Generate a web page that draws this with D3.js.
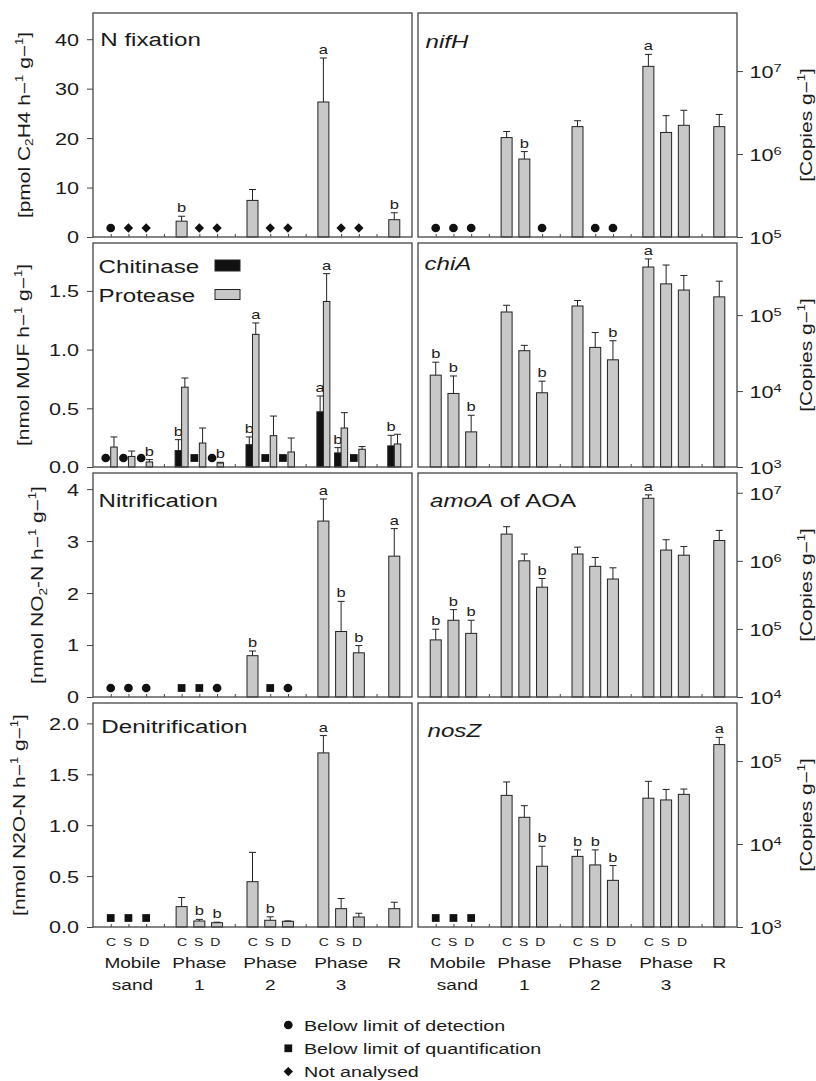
<!DOCTYPE html>
<html>
<head>
<meta charset="utf-8">
<script src="https://cdn.jsdelivr.net/npm/d3@7"></script>
<style>
  body { margin: 0; background: #fff; }
  svg { font-family: "Liberation Sans", Arial, sans-serif; }
</style>
</head>
<body>
<div id="chart"></div>
<script>
// categories
var groupNames = [["Mobile", "sand"], ["Phase", "1"], ["Phase", "2"], ["Phase", "3"], ["R", ""]];
var sampleGroup = [0, 0, 0, 1, 1, 1, 2, 2, 2, 3, 3, 3, 4];
var sampleTreat = ["C", "S", "D", "C", "S", "D", "C", "S", "D", "C", "S", "D", "R"];
// symbol codes: o = below detection, s = below quantification, d = not analysed

// N fixation [pmol C2H4 h-1 g-1]
var nFixMean = [null, null, null, 3.2, null, null, 7.4, null, null, 27.3, null, null, 3.5];
var nFixErr = [null, null, null, 4.2, null, null, 9.6, null, null, 36.2, null, null, 4.9];
var nFixSym = ["o", "d", "d", null, "d", "d", null, "d", "d", null, "d", "d", null];
var nFixLetter = [null, null, null, "b", null, null, null, null, null, "a", null, null, "b"];

// nifH [copies g-1]
var nifHMean = [null, null, null, 1.58e6, 8.7e5, null, 2.14e6, null, null, 1.14e7, 1.82e6, 2.22e6, 2.14e6];
var nifHErr = [null, null, null, 1.87e6, 1.07e6, null, 2.52e6, null, null, 1.59e7, 2.9e6, 3.37e6, 3.0e6];
var nifHSym = ["o", "o", "o", null, null, "o", null, "o", "o", null, null, null, null];
var nifHLetter = [null, null, null, null, "b", null, null, null, null, "a", null, null, null];

// Chitinase / Protease [nmol MUF h-1 g-1]
var chitMean = [null, null, null, 0.14, null, null, 0.19, null, null, 0.47, 0.12, null, 0.18];
var chitErr = [null, null, null, 0.233, null, null, 0.256, null, null, 0.605, 0.165, null, 0.27];
var chitSym = ["o", "o", "o", null, "s", "o", null, "s", "s", null, null, "s", null];
var chitLetter = [null, null, null, "b", null, null, "b", null, null, "a", "b", null, "b"];
var protMean = [0.17, 0.09, 0.043, 0.68, 0.204, 0.034, 1.13, 0.267, 0.128, 1.41, 0.332, 0.151, 0.196];
var protErr = [0.256, 0.136, 0.063, 0.758, 0.332, 0.04, 1.227, 0.434, 0.247, 1.647, 0.463, 0.174, 0.279];
var protLetter = [null, null, "b", null, null, "b", "a", null, null, "a", null, null, null];

// chiA [copies g-1]
var chiAMean = [1.62e4, 9.3e3, 2.9e3, 1.1e5, 3.4e4, 9.5e3, 1.32e5, 3.76e4, 2.58e4, 4.3e5, 2.58e5, 2.14e5, 1.74e5];
var chiAErr = [2.4e4, 1.58e4, 4.8e3, 1.35e5, 4.0e4, 1.35e4, 1.56e5, 5.9e4, 4.6e4, 5.5e5, 4.57e5, 3.33e5, 2.8e5];
var chiALetter = ["b", "b", "b", null, null, "b", null, null, "b", "a", null, null, null];

// Nitrification [nmol NO2-N h-1 g-1]
var nitMean = [null, null, null, null, null, null, 0.795, null, null, 3.385, 1.26, 0.85, 2.71];
var nitErr = [null, null, null, null, null, null, 0.885, null, null, 3.81, 1.84, 0.99, 3.24];
var nitSym = ["o", "o", "o", "s", "s", "o", null, "s", "o", null, null, null, null];
var nitLetter = [null, null, null, null, null, null, "b", null, null, "a", "b", "b", "a"];

// amoA of AOA [copies g-1]
var amoAMean = [6.9e4, 1.34e5, 8.6e4, 2.47e6, 1.0e6, 4.1e5, 1.26e6, 8.3e5, 5.4e5, 8.3e6, 1.44e6, 1.21e6, 1.99e6];
var amoAErr = [9.9e4, 1.92e5, 1.34e5, 3.17e6, 1.26e6, 5.5e5, 1.59e6, 1.12e6, 7.9e5, 9.3e6, 2.04e6, 1.62e6, 2.8e6];
var amoALetter = ["b", "b", "b", null, null, "b", null, null, null, "a", null, null, null];

// Denitrification [nmol N2O-N h-1 g-1]
var denMean = [null, null, null, 0.20, 0.059, 0.042, 0.445, 0.066, 0.056, 1.71, 0.18, 0.098, 0.18];
var denErr = [null, null, null, 0.29, 0.075, 0.047, 0.733, 0.10, 0.06, 1.88, 0.28, 0.135, 0.243];
var denSym = ["s", "s", "s", null, null, null, null, null, null, null, null, null, null];
var denLetter = [null, null, null, null, "b", "b", null, "b", null, "a", null, null, null];

// nosZ [copies g-1]
var nosZMean = [null, null, null, 3.86e4, 2.1e4, 5.4e3, 7.1e3, 5.6e3, 3.65e3, 3.57e4, 3.4e4, 3.97e4, 1.58e5];
var nosZErr = [null, null, null, 5.6e4, 2.9e4, 9.4e3, 8.5e3, 8.5e3, 5.5e3, 5.7e4, 4.55e4, 4.6e4, 1.93e5];
var nosZSym = ["s", "s", "s", null, null, null, null, null, null, null, null, null, null];
var nosZLetter = [null, null, null, null, null, "b", "b", "b", "b", null, null, null, "a"];

// tick values
var nFixTicks = [0, 10, 20, 30, 40];
var chitTicks = [0, 0.5, 1.0, 1.5];
var nitTicks = [0, 1, 2, 3, 4];
var denTicks = [0, 0.5, 1.0, 1.5, 2.0];
var nifHTicks = [1e5, 1e6, 1e7];
var chiATicks = [1e3, 1e4, 1e5];
var amoATicks = [1e4, 1e5, 1e6, 1e7];
var nosZTicks = [1e3, 1e4, 1e5];

var legendItems = [["o", "Below limit of detection"], ["s", "Below limit of quantification"], ["d", "Not analysed"]];

// ---------------------------------------------------------------
var SX = 1.27;          // glyphs in the figure are wide, stretch text
var ink = "#1a1a1a";
var barGray = "#c8c8c8";
var pw = 319, ph = 224;

var svg = d3.select("#chart")
    .append("svg")
    .attr("width", 816)
    .attr("height", 1081);

// 17 slots: 3 bars + 1 gap per phase, R last
var x = d3.scalePoint()
    .domain(d3.range(17))
    .range([0, pw])
    .padding(1);

function slot(i) {
    var t = sampleTreat[i] === "R" ? 0 : ["C", "S", "D"].indexOf(sampleTreat[i]);
    return sampleGroup[i] * 4 + t;
}

function stext(parent, px, py, size, anchor, rot) {
    return parent.append("text")
        .attr("transform", "translate(" + px + "," + py + ")" + (rot ? " rotate(-90)" : "") + " scale(" + SX + ",1)")
        .attr("font-size", size)
        .attr("text-anchor", anchor || "start")
        .attr("fill", ink);
}

// parts: [text, shift in em (neg = up), size factor, italic]
function rich(t, parts, size) {
    var cur = 0;
    parts.forEach(function (p) {
        var shift = p[1] * size;
        var ts = t.append("tspan")
            .attr("dy", shift - cur)
            .attr("font-size", size * p[2])
            .text(p[0]);
        if (p[3]) ts.attr("font-style", "italic");
        cur = shift;
    });
}

function symPath(code) {
    if (code === "o") return d3.symbol().type(d3.symbolCircle).size(60)();
    if (code === "s") return d3.symbol().type(d3.symbolSquare).size(60)();
    return d3.symbol().type(d3.symbolSquare).size(44)();
}
function symTransform(code, px, py) {
    return "translate(" + px + "," + py + ")" + (code === "d" ? " rotate(45)" : "");
}

var hm1 = [["h", 0, 1], ["\u2212", 0, 1], ["1", -0.42, 0.62]];
var gm1 = [[" g", 0, 1], ["\u2212", 0, 1], ["1", -0.42, 0.62], ["]", 0, 1]];
var copiesLabel = [["[Copies g", 0, 1], ["\u2212", 0, 1], ["1", -0.42, 0.62], ["]", 0, 1]];

var panels = [
    { left: 93, top: 13, log: false, domain: [0, 45.3], ticks: nFixTicks, fmt: d3.format("d"),
      title: [["N fixation", 0, 1]], tx: 7.3, ty: 32.7, ylx: 29.5,
      ylabel: [["[pmol C", 0, 1], ["2", 0.22, 0.65], ["H4 ", 0, 1]].concat(hm1, gm1),
      series: [{ mean: nFixMean, err: nFixErr, sym: nFixSym, letter: nFixLetter, fill: barGray, off: 0, w: 11 }] },
    { left: 418, top: 13, log: true, domain: [1e5, Math.pow(10, 7.7)], ticks: nifHTicks,
      title: [["nifH", 0, 1, true]], tx: 7.5, ty: 35.3,
      series: [{ mean: nifHMean, err: nifHErr, sym: nifHSym, letter: nifHLetter, fill: barGray, off: 0, w: 11 }] },
    { left: 93, top: 243, log: false, domain: [0, 1.908], ticks: chitTicks, fmt: d3.format(".1f"),
      title: null, ylx: 29,
      ylabel: [["[nmol MUF ", 0, 1]].concat(hm1, gm1),
      series: [{ mean: chitMean, err: chitErr, sym: chitSym, letter: chitLetter, fill: "#111", off: -3.25, w: 6.5, symOff: -5 },
               { mean: protMean, err: protErr, sym: null, letter: protLetter, fill: barGray, off: 3.25, w: 6.5 }] },
    { left: 418, top: 243, log: true, domain: [1e3, Math.pow(10, 5.95)], ticks: chiATicks,
      title: [["chiA", 0, 1, true]], tx: 6.5, ty: 27,
      series: [{ mean: chiAMean, err: chiAErr, sym: null, letter: chiALetter, fill: barGray, off: 0, w: 11 }] },
    { left: 93, top: 473, log: false, domain: [0, 4.31], ticks: nitTicks, fmt: d3.format("d"),
      title: [["Nitrification", 0, 1]], tx: 5.6, ty: 33.7, ylx: 43,
      ylabel: [["[nmol NO", 0, 1], ["2", 0.22, 0.65], ["-N ", 0, 1]].concat(hm1, gm1),
      series: [{ mean: nitMean, err: nitErr, sym: nitSym, letter: nitLetter, fill: barGray, off: 0, w: 11 }] },
    { left: 418, top: 473, log: true, domain: [1e4, Math.pow(10, 7.29)], ticks: amoATicks,
      title: [["amoA", 0, 1, true], [" of AOA", 0, 1]], tx: 12, ty: 33.7,
      series: [{ mean: amoAMean, err: amoAErr, sym: null, letter: amoALetter, fill: barGray, off: 0, w: 11 }] },
    { left: 93, top: 703, log: false, domain: [0, 2.2], ticks: denTicks, fmt: d3.format(".1f"),
      title: [["Denitrification", 0, 1]], tx: 8.3, ty: 29.7, ylx: 25,
      ylabel: [["[nmol N2O-N ", 0, 1]].concat(hm1, gm1),
      series: [{ mean: denMean, err: denErr, sym: denSym, letter: denLetter, fill: barGray, off: 0, w: 11 }] },
    { left: 418, top: 703, log: true, domain: [1e3, Math.pow(10, 5.7)], ticks: nosZTicks,
      title: [["nosZ", 0, 1, true]], tx: 9.5, ty: 33.7,
      series: [{ mean: nosZMean, err: nosZErr, sym: nosZSym, letter: nosZLetter, fill: barGray, off: 0, w: 11 }] }
];

function drawPanel(p) {
    var g = svg.append("g")
        .attr("transform", "translate(" + p.left + "," + p.top + ")");

    var y = (p.log ? d3.scaleLog() : d3.scaleLinear())
        .domain(p.domain)
        .range([ph, 0]);

    // small inner ticks along the bottom at every slot
    g.append("g")
        .attr("transform", "translate(0," + ph + ")")
        .call(d3.axisBottom(x).tickSize(-3).tickFormat(""))
        .call(function (a) {
            a.select(".domain").remove();
            a.selectAll("line").attr("stroke", "#444");
        });

    if (!p.log) {
        g.append("g")
            .call(d3.axisLeft(y).tickValues(p.ticks).tickFormat(p.fmt).tickSize(6).tickSizeOuter(0))
            .call(function (a) {
                a.select(".domain").remove();
                a.selectAll("line").attr("stroke", "#444");
                a.selectAll("text")
                    .attr("font-size", 17)
                    .attr("font-family", "Liberation Sans, Arial, sans-serif")
                    .attr("fill", ink)
                    .attr("x", -14 / SX)
                    .attr("dy", "0.35em")
                    .attr("transform", "scale(" + SX + ",1)");
            });
        var yl = stext(svg, p.ylx, p.top + ph / 2, 16.5, "middle", true);
        rich(yl, p.ylabel, 16.5);
    } else {
        g.append("g")
            .attr("transform", "translate(" + pw + ",0)")
            .call(d3.axisRight(y).tickValues(p.ticks).tickFormat(function (d) { return Math.round(Math.log10(d)); }).tickSize(6))
            .call(function (a) {
                a.select(".domain").remove();
                a.selectAll("line").attr("stroke", "#444");
                a.selectAll("text").each(function (d) {
                    var t = d3.select(this);
                    var e = t.text();
                    t.text("")
                        .attr("font-size", 17)
                        .attr("font-family", "Liberation Sans, Arial, sans-serif")
                        .attr("fill", ink)
                        .attr("x", 12.5 / SX)
                        .attr("dy", "0.37em")
                        .attr("transform", "scale(" + SX + ",1)");
                    t.append("tspan").text("10");
                    t.append("tspan").attr("font-size", 11.5).attr("dy", -6).text(e);
                });
            });
        var yr = stext(svg, 811.5, p.top + ph / 2, 16.5, "middle", true);
        rich(yr, copiesLabel, 16.5);
    }

    var base = y.range()[0];

    p.series.forEach(function (s) {
        var idx = d3.range(sampleTreat.length);
        var withBar = idx.filter(function (i) { return s.mean[i] != null; });

        // bars
        g.append("g").selectAll("rect")
            .data(withBar)
            .enter()
            .append("rect")
            .attr("x", function (i) { return x(slot(i)) + s.off - s.w / 2; })
            .attr("y", function (i) { return y(s.mean[i]); })
            .attr("width", s.w)
            .attr("height", function (i) { return base - y(s.mean[i]); })
            .attr("fill", s.fill)
            .attr("stroke", "#222")
            .attr("stroke-width", 1);

        // error bars
        var eb = g.append("g").attr("stroke", "#222").attr("stroke-width", 1).attr("fill", "none");
        eb.selectAll("path")
            .data(withBar.filter(function (i) { return s.err[i] != null; }))
            .enter()
            .append("path")
            .attr("d", function (i) {
                var cx = x(slot(i)) + s.off, y0 = y(s.mean[i]), y1 = y(s.err[i]);
                return "M" + cx + "," + y0 + "V" + y1 + "M" + (cx - 3.5) + "," + y1 + "H" + (cx + 3.5);
            });

        // significance letters
        withBar.filter(function (i) { return s.letter[i]; }).forEach(function (i) {
            var top = s.err[i] != null ? y(s.err[i]) : y(s.mean[i]);
            stext(g, x(slot(i)) + s.off, top - 4, 13, "middle").text(s.letter[i]);
        });

        // below-limit / not analysed symbols
        if (s.sym) {
            g.append("g").selectAll("path")
                .data(idx.filter(function (i) { return s.sym[i]; }))
                .enter()
                .append("path")
                .attr("d", function (i) { return symPath(s.sym[i]); })
                .attr("transform", function (i) {
                    return symTransform(s.sym[i], x(slot(i)) + (s.symOff || 0), base - 9);
                })
                .attr("fill", "#111");
        }
    });

    if (p.title) {
        var tt = stext(g, p.tx, p.ty, 19, "start");
        rich(tt, p.title, 19);
    }

    // frame
    g.append("rect")
        .attr("width", pw)
        .attr("height", ph)
        .attr("fill", "none")
        .attr("stroke", "#444")
        .attr("stroke-width", 1.3);

    return g;
}

var drawn = panels.map(drawPanel);

// Chitinase / Protease key inside panel 3
var kp = drawn[2];
stext(kp, 5.6, 30.3, 19, "start").text("Chitinase");
stext(kp, 5.6, 58.7, 19, "start").text("Protease");
kp.append("rect").attr("x", 122).attr("y", 17).attr("width", 25).attr("height", 11)
    .attr("fill", "#111").attr("stroke", "#222");
kp.append("rect").attr("x", 122).attr("y", 46.5).attr("width", 25).attr("height", 10)
    .attr("fill", barGray).attr("stroke", "#222");

// x category labels under the bottom row
[93, 418].forEach(function (left) {
    var gl = svg.append("g").attr("transform", "translate(" + left + ",0)");
    groupNames.forEach(function (gn, gi) {
        var cx = gi < 4 ? x(gi * 4 + 1) : x(16);
        if (gi < 4) {
            stext(gl, cx, 946, 11, "middle").attr("letter-spacing", 1.2).text("C S D");
        }
        var nudge = gi === 0 ? 4 : 0;
        stext(gl, cx + nudge, 968.3, 15, "middle").text(gn[0]);
        if (gn[1]) stext(gl, cx + nudge, 990, 15, "middle").text(gn[1]);
    });
});

// symbol legend
var lg = svg.append("g");
legendItems.forEach(function (it, k) {
    var ly = 1025 + k * 23.3;
    lg.append("path")
        .attr("d", symPath(it[0]))
        .attr("transform", symTransform(it[0], 288.3, ly))
        .attr("fill", "#111");
    stext(lg, 304, ly + 5.8, 15.5, "start").text(it[1]);
});
</script>
</body>
</html>
